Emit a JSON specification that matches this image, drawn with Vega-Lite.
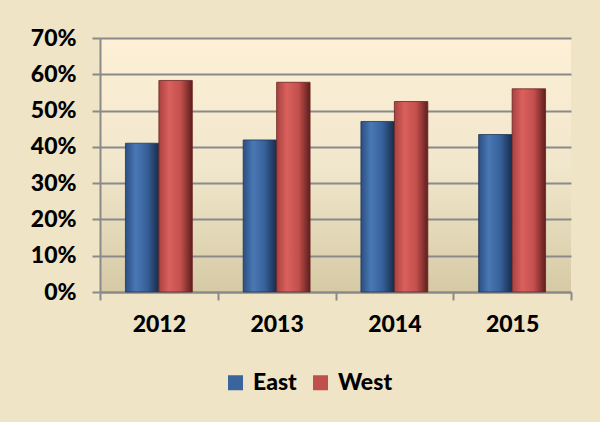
{
  "$schema": "https://vega.github.io/schema/vega-lite/v6.json",
  "width": 471,
  "height": 254,
  "autosize": {"type": "none"},
  "padding": {"left": 100, "top": 38, "right": 29, "bottom": 130},
  "background": "#efe4c6",
  "config": {
    "view": {
      "stroke": null,
      "fill": {
        "gradient": "linear", "x1": 0, "x2": 0, "y1": 0, "y2": 1,
        "stops": [
          {"offset": 0, "color": "#fdf0d6"},
          {"offset": 0.5, "color": "#f1e7cc"},
          {"offset": 1, "color": "#d6caa5"}
        ]
      }
    },
    "font": "Lato",
    "axis": {
      "labelFont": "Lato",
      "labelFontWeight": 900,
      "labelFontSize": 23,
      "labelColor": "#000000",
      "labelOverlap": false,
      "labelFlush": false,
      "domainColor": "#8a8a8a",
      "domainWidth": 2,
      "tickColor": "#8a8a8a",
      "tickWidth": 2,
      "tickSize": 8,
      "gridColor": "#8a8a8a",
      "gridWidth": 2,
      "gridOpacity": 1,
      "title": null
    }
  },
  "data": {
    "values": [
      {"year": "2012", "series": "East", "value": 0.41},
      {"year": "2012", "series": "West", "value": 0.583},
      {"year": "2013", "series": "East", "value": 0.419},
      {"year": "2013", "series": "West", "value": 0.578},
      {"year": "2014", "series": "East", "value": 0.47},
      {"year": "2014", "series": "West", "value": 0.525},
      {"year": "2015", "series": "East", "value": 0.434},
      {"year": "2015", "series": "West", "value": 0.56}
    ]
  },
  "encoding": {
    "x": {
      "field": "year", "type": "nominal",
      "scale": {"paddingInner": 0, "paddingOuter": 0},
      "axis": {"labelAngle": 0, "tickBand": "extent", "labelPadding": 13, "grid": false}
    },
    "xOffset": {"field": "series", "type": "nominal", "scale": {"domain": ["East", "West"], "paddingInner": 0, "paddingOuter": 0.76}},
    "y": {
      "field": "value", "type": "quantitative",
      "scale": {"domain": [0, 0.7]},
      "axis": {"values": [0, 0.1, 0.2, 0.3, 0.4, 0.5, 0.6, 0.7], "format": ".0%", "labelPadding": 16}
    }
  },
  "layer": [
    {
      "mark": {"type": "bar", "opacity": 0},
      "encoding": {
        "color": {
          "field": "series", "type": "nominal",
          "scale": {"domain": ["East", "West"], "range": ["#3a649c", "#c0504d"]},
          "legend": {
            "title": null,
            "orient": "none",
            "direction": "horizontal",
            "legendX": 124,
            "legendY": 333,
            "symbolType": "square",
            "symbolSize": 225,
            "symbolOpacity": 1,
            "symbolStrokeWidth": 0,
            "labelFont": "Lato",
            "labelFontWeight": 900,
            "labelFontSize": 23,
            "labelColor": "#000000",
            "labelOffset": 6,
            "columnPadding": 12
          }
        }
      }
    },
    {
      "transform": [{"filter": "datum.series === 'East'"}],
      "mark": {
        "type": "bar",
        "stroke": "#1e3658",
        "strokeWidth": 0.8,
        "color": {
          "gradient": "linear", "x1": 0, "x2": 1, "y1": 0, "y2": 0,
          "stops": [
            {"offset": 0, "color": "#2b4f82"},
            {"offset": 0.3, "color": "#4a78b4"},
            {"offset": 0.65, "color": "#36609a"},
            {"offset": 1, "color": "#172c4a"}
          ]
        }
      }
    },
    {
      "transform": [{"filter": "datum.series === 'West'"}],
      "mark": {
        "type": "bar",
        "stroke": "#6a2322",
        "strokeWidth": 0.8,
        "color": {
          "gradient": "linear", "x1": 0, "x2": 1, "y1": 0, "y2": 0,
          "stops": [
            {"offset": 0, "color": "#a8423f"},
            {"offset": 0.3, "color": "#d9605d"},
            {"offset": 0.65, "color": "#c4504d"},
            {"offset": 1, "color": "#5e1e1d"}
          ]
        }
      }
    }
  ]
}
